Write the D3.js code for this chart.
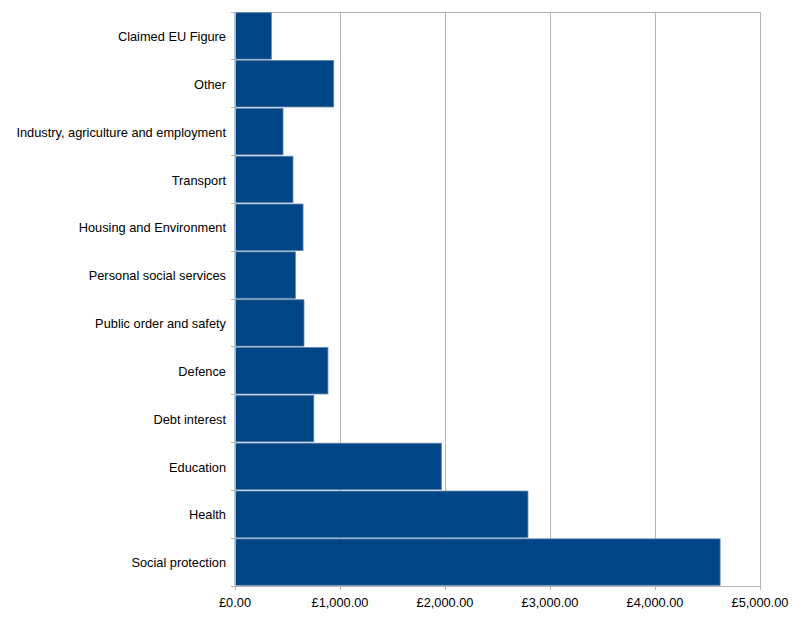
<!DOCTYPE html>
<html><head><meta charset="utf-8">
<script src="https://cdn.jsdelivr.net/npm/d3@7"></script>
<style>body{margin:0;background:#fff}svg{display:block}text{font-family:"Liberation Sans",Arial,sans-serif}</style>
</head><body>
<svg id="c" width="804" height="622"></svg>
<script>
const categories = ["Claimed EU Figure","Other","Industry, agriculture and employment","Transport","Housing and Environment","Personal social services","Public order and safety","Defence","Debt interest","Education","Health","Social protection"];
const values = [346, 940, 457, 552, 648, 575, 657, 885, 750, 1965, 2790, 4620];
const xTicks = [0, 1000, 2000, 3000, 4000, 5000];

const svg = d3.select("#c");
const m = {left: 235, right: 760, top: 12, bottom: 586};
const x = d3.scaleLinear().domain([0, 5000]).range([m.left, m.right]);
const y = d3.scaleBand().domain(categories).range([m.top, m.bottom]).paddingInner(0.03).paddingOuter(0.015);
const yb = d3.scaleBand().domain(categories).range([m.top, m.bottom]);

svg.append("g").selectAll("line").data(xTicks.slice(1)).join("line")
  .attr("x1", d => x(d)).attr("x2", d => x(d))
  .attr("y1", m.top).attr("y2", m.bottom)
  .attr("stroke", "#b3b3b3").attr("stroke-width", 1).attr("shape-rendering","crispEdges");
svg.append("line").attr("x1", m.left).attr("x2", m.right).attr("y1", m.top).attr("y2", m.top)
  .attr("stroke", "#b3b3b3").attr("shape-rendering","crispEdges");

svg.append("g").selectAll("rect").data(categories).join("rect")
  .attr("x", x(0)).attr("y", d => y(d))
  .attr("width", (d, i) => x(values[i]) - x(0))
  .attr("height", y.bandwidth())
  .attr("fill", "#004586").attr("stroke", "#5a82ad").attr("stroke-width", 0.8);

const ya = svg.append("g").attr("transform", `translate(${m.left},0)`);
ya.append("line").attr("x1", 0).attr("x2", 0).attr("y1", m.top).attr("y2", m.bottom)
  .attr("stroke", "#b3b3b3").attr("shape-rendering","crispEdges");
const bounds = categories.map(c => yb(c)).concat([m.bottom]);
ya.selectAll("line.t").data(bounds).join("line").attr("class","t")
  .attr("x1", -4).attr("x2", 0).attr("y1", d => d).attr("y2", d => d)
  .attr("stroke", "#b3b3b3").attr("shape-rendering","crispEdges");
ya.selectAll("text").data(categories).join("text")
  .attr("x", -9).attr("y", d => yb(d) + yb.bandwidth()/2).attr("dy", "0.4em")
  .attr("text-anchor", "end").attr("font-size", 12.8).attr("fill", "#000").text(d => d);

const xa = svg.append("g").attr("transform", `translate(0,${m.bottom})`);
xa.append("line").attr("x1", m.left).attr("x2", m.right).attr("stroke", "#b3b3b3").attr("shape-rendering","crispEdges");
xa.selectAll("line.t").data(xTicks).join("line").attr("class","t")
  .attr("x1", d => x(d)).attr("x2", d => x(d)).attr("y1", 0).attr("y2", 4)
  .attr("stroke", "#b3b3b3").attr("shape-rendering","crispEdges");
const fmt = d3.format(",.2f");
xa.selectAll("text").data(xTicks).join("text")
  .attr("x", d => x(d)).attr("y", 21)
  .attr("text-anchor", "middle").attr("font-size", 12.8).attr("fill", "#000")
  .text(d => "£" + fmt(d));
</script>
</body></html>
